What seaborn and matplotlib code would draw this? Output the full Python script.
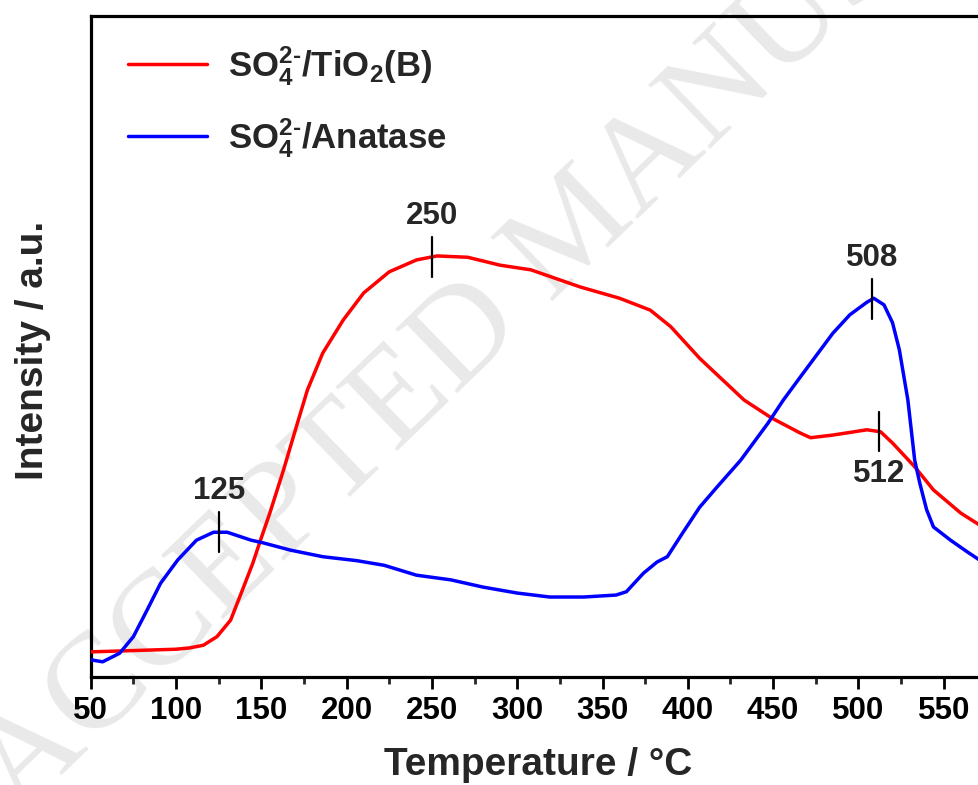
import numpy as np
import pandas as pd
import matplotlib
matplotlib.use("Agg")
import matplotlib.pyplot as plt
import seaborn as sns
from matplotlib.ticker import MultipleLocator

# TPD profiles (temperature in deg C, intensity in arbitrary units)
temp_tio2b = [50, 75, 100, 108, 116, 124, 132, 139, 145, 149, 155, 163, 170, 177,
              186, 198, 210, 225, 241, 253, 271, 290, 308, 337, 360, 378, 390,
              407, 433, 449, 466, 472, 485, 505, 513, 520, 533, 544, 560, 571,
              585, 600]
int_tio2b = [3.8, 4.0, 4.2, 4.4, 4.8, 6.1, 8.6, 13.2, 17.2, 20.3, 24.8, 31.3,
             37.4, 43.4, 49.0, 54.0, 58.1, 61.3, 63.1, 63.7, 63.5, 62.3, 61.6,
             59.0, 57.3, 55.5, 53.0, 48.2, 41.9, 39.2, 36.9, 36.2, 36.6, 37.4,
             37.1, 35.4, 31.8, 28.3, 24.8, 23.0, 21.0, 19.5]

temp_anatase = [50, 57, 67, 75, 83, 91, 101, 112, 122, 130, 144, 151, 167, 186,
                206, 222, 241, 261, 280, 300, 319, 339, 358, 364, 374, 382, 388,
                397, 407, 417, 431, 447, 456, 466, 485, 495, 505, 509, 515, 520,
                524, 529, 533, 536, 540, 544, 554, 564, 571, 585, 600]
int_anatase = [2.6, 2.3, 3.6, 6.1, 10.1, 14.2, 17.7, 20.7, 21.9, 21.9, 20.7,
               20.3, 19.2, 18.2, 17.6, 16.9, 15.4, 14.7, 13.6, 12.7, 12.1, 12.1,
               12.4, 12.9, 15.7, 17.4, 18.2, 21.8, 25.7, 28.7, 32.8, 38.4, 41.9,
               45.4, 52.0, 54.8, 56.7, 57.3, 56.3, 53.6, 49.5, 41.9, 32.8, 29.3,
               25.3, 22.7, 20.7, 18.9, 17.7, 16.5, 15.5]

series_labels = [r"SO$_4^{2\text{-}}$/TiO$_2$(B)", r"SO$_4^{2\text{-}}$/Anatase"]
series_colors = ["#ff0000", "#0000ff"]

# Peak markers: temperature, which profile, label above/below
peak_temps = [125, 250, 508, 512]
peak_series = [1, 0, 1, 0]
peak_above = [True, True, True, False]

sns.set_style("white")
plt.rcParams["font.family"] = ["Liberation Sans", "DejaVu Sans"]
plt.rcParams["font.weight"] = "bold"
plt.rcParams["mathtext.fontset"] = "custom"
plt.rcParams["mathtext.rm"] = "Liberation Sans:bold"
plt.rcParams["mathtext.bf"] = "Liberation Sans:bold"
plt.rcParams["mathtext.default"] = "bf"

df = pd.concat([
    pd.DataFrame({"Temperature": temp_tio2b, "Intensity": int_tio2b,
                  "Sample": series_labels[0]}),
    pd.DataFrame({"Temperature": temp_anatase, "Intensity": int_anatase,
                  "Sample": series_labels[1]}),
], ignore_index=True)

W, H = 979, 785
fig = plt.figure(figsize=(W / 100, H / 100), dpi=100)
px_left, px_top, px_bottom = 90.7, 16, 677
x_lo, x_hi = 50, 578
px_per_unit = 1.706
ax = fig.add_axes([px_left / W, (H - px_bottom) / H,
                   (x_hi - x_lo) * px_per_unit / W, (px_bottom - px_top) / H])

sns.lineplot(data=df, x="Temperature", y="Intensity", hue="Sample",
             palette=series_colors, hue_order=series_labels, sort=False,
             linewidth=2.5, ax=ax, legend=False, zorder=3)

ax.set_xlabel("")
ax.set_ylabel("")
ax.set_yticks([])
ax.xaxis.set_major_locator(MultipleLocator(50))
ax.xaxis.set_minor_locator(MultipleLocator(25))
ax.set_xlim(x_lo, x_hi)
ax.set_ylim(0, 100)
ax.tick_params(axis="x", which="major", direction="out", length=8.5, width=2,
               labelsize=22.5, pad=5, bottom=True, colors="black")
ax.tick_params(axis="x", which="minor", direction="out", length=5, width=2,
               bottom=True)
for lbl in ax.get_xticklabels():
    lbl.set_fontweight("bold")
for side in ["top", "bottom", "left", "right"]:
    ax.spines[side].set_visible(True)
    ax.spines[side].set_linewidth(2.3)
    ax.spines[side].set_color("black")

# Peak ticks and labels
curves = [(temp_tio2b, int_tio2b), (temp_anatase, int_anatase)]
for t, s, above in zip(peak_temps, peak_series, peak_above):
    yc = float(np.interp(t, *curves[s]))
    y0, y1 = yc - 3.0, yc + 3.0
    ax.plot([t, t], [y0, y1], color="black", lw=1.6, zorder=4)
    if above:
        ax.text(t, y1 + 0.9, str(t), ha="center", va="bottom",
                fontsize=22.5, fontweight="bold", zorder=4)
    else:
        ax.text(t, y0 - 1.1, str(t), ha="center", va="top",
                fontsize=22.5, fontweight="bold", zorder=4)

# Legend
handles = [plt.Line2D([], [], color=c, lw=2.5) for c in series_colors]
ax.legend(handles, series_labels, loc="upper left",
          bbox_to_anchor=(0.041, 0.958), frameon=False, fontsize=25,
          handlelength=2.3, handletextpad=0.6, labelspacing=0.8,
          borderpad=0, borderaxespad=0)

# Axis titles
fig.text(538.5 / W, (H - 775) / H, "Temperature / °C", ha="center",
         va="baseline", fontsize=28, fontweight="bold")
fig.text(43 / W, 1 - 350 / H, "Intensity / a.u.", ha="center", va="baseline",
         rotation=90, rotation_mode="anchor", fontsize=28, fontweight="bold")

# Watermark, kept beneath the axis ticks and labels
ax.text(578 / W, 1 - 232 / H, "ACCEPTED MANUSCRIPT", transform=fig.transFigure,
        ha="center", va="center", rotation=44, rotation_mode="anchor",
        fontsize=98, family="Liberation Serif", fontweight="normal",
        color="#e9e9e9", zorder=0.3, clip_on=False)

fig.savefig("out.png", dpi=100)
